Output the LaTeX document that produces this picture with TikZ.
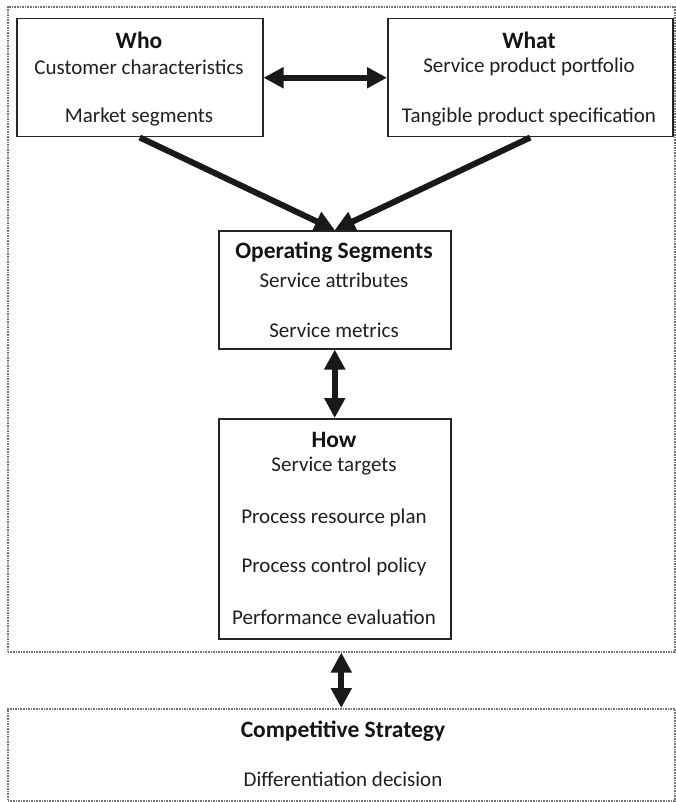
\documentclass[tikz,border=0pt]{standalone}
\usepackage{fontspec}
\setmainfont{Carlito}
\usetikzlibrary{arrows.meta}
\begin{document}
\begin{tikzpicture}[x=1pt,y=-1pt,
 box/.style={draw=black!85,line width=1.5pt,fill=white,anchor=north west,inner sep=0pt},
 frame/.style={draw=black!55,line width=1.6pt,densely dotted,anchor=north west,inner sep=0pt},
 txt/.style={font=\fontsize{21}{25}\selectfont,text=black!88,inner sep=0pt},
 hd/.style={font=\fontsize{23.5}{28}\selectfont\bfseries,text=black!92,inner sep=0pt},
 arr/.style={line width=6pt,draw=black!90,-{Triangle[length=20pt,width=20pt]}},
 darr/.style={line width=6pt,draw=black!90,{Triangle[length=20pt,width=20pt]}-{Triangle[length=20pt,width=20pt]}}]
\useasboundingbox (0,0) rectangle (675,802);
\node[frame,minimum width=667pt,minimum height=645pt] (outer) at (7,6) {};
\node[frame,minimum width=667pt,minimum height=92pt] (comp) at (7,708) {};
\node[box,minimum width=246pt,minimum height=118pt] (who) at (16,18) {};
\node[box,minimum width=285pt,minimum height=118pt] (what) at (387,18) {};
\node[box,minimum width=232pt,minimum height=118pt] (op) at (218,230) {};
\node[box,minimum width=232pt,minimum height=220pt] (how) at (218,418) {};
% texts
\node[hd] (whoh) at (139,40) {Who};
\node[txt] (who1) at (139,67) {Customer characteristics};
\node[txt] (who2) at (139,117) {Market segments};
\node[hd] (whath) at (529,40) {What};
\node[txt] (what1) at (529,67) {Service product portfolio};
\node[txt] (what2) at (529,117) {Tangible product specification};
\node[hd] (oph) at (334,252) {Operating Segments};
\node[txt] (op1) at (334,280) {Service attributes};
\node[txt] (op2) at (334,330) {Service metrics};
\node[hd] (howh) at (334,440) {How};
\node[txt] (how1) at (334,466) {Service targets};
\node[txt] (how2) at (334,518) {Process resource plan};
\node[txt] (how3) at (334,567) {Process control policy};
\node[txt] (how4) at (334,617) {Performance evaluation};
\node[hd] (comph) at (343,731) {Competitive Strategy};
\node[txt] (comp1) at (343,779) {Differentiation decision};
% arrows
\draw[darr] (who.east) -- (what.west);
\draw[arr] (who.south) -- (op.north);
\draw[arr] (what.south) -- (op.north);
\draw[darr] (op.south) -- (how.north);
\draw[darr] (outer.south) -- (comp.north);
\end{tikzpicture}
\end{document}
